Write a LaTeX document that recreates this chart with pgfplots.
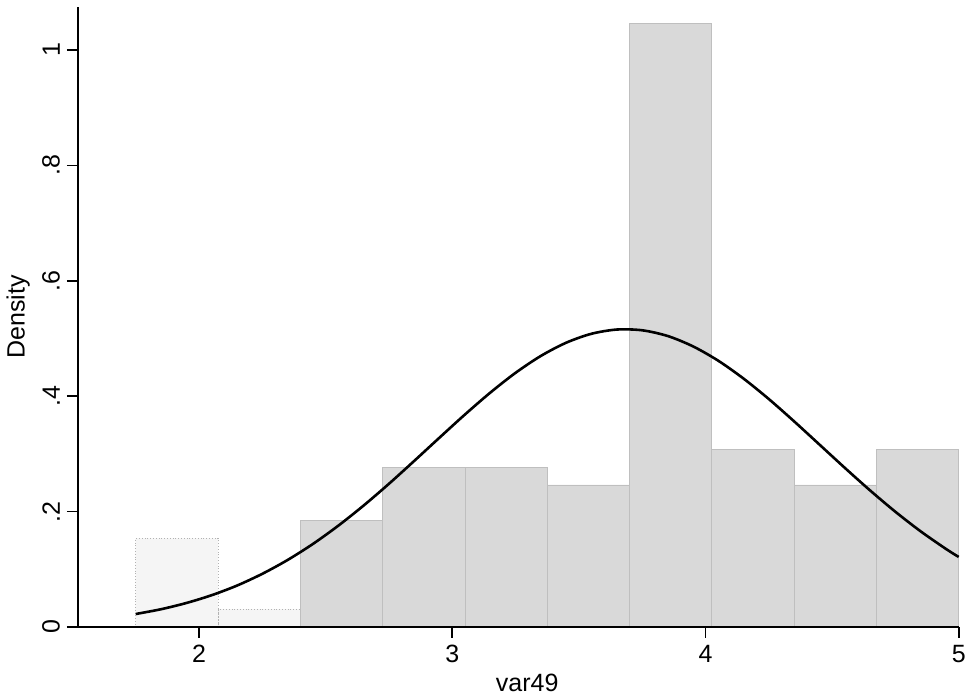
\documentclass[border=0pt]{standalone}
\usepackage{fontspec}
\setmainfont{Liberation Sans}
\usepackage{pgfplots}
\pgfplotsset{compat=1.18}

\begin{document}
\begin{tikzpicture}
\begin{axis}[
    scale only axis,
    width=440.35pt,
    height=310pt,
    xmin=1.522, xmax=5.0,
    ymin=0, ymax=1.0745,
    axis on top,
    axis x line*=bottom,
    axis y line*=left,
    axis line style={line width=0.8pt, black},
    tick align=outside,
    major tick length=5.5pt,
    tick style={line width=0.8pt, black},
    xtick={2,3,4,5},
    xticklabels={2,3,4,5},
    ytick={0,0.2,0.4,0.6,0.8,1},
    yticklabels={0,.2,.4,.6,.8,1},
    ticklabel style={font=\fontsize{12.5}{14}\selectfont},
    yticklabel style={rotate=90, anchor=south},
    xlabel={var49},
    ylabel={Density},
    label style={font=\fontsize{12.5}{14}\selectfont},
    xlabel style={at={(axis description cs:0.51,0)}, anchor=center, yshift=-28pt},
    ylabel style={at={(axis description cs:-0.068,0.5)}, anchor=center},
    clip=false,
]

% histogram bars (bin width 0.325)
\addplot[ybar interval, fill=gray!8, draw=gray!60, densely dotted] coordinates {
(1.75,0.1538) (2.075,0.0308) (2.4,0)
};
\addplot[ybar interval, fill=gray!30, draw=gray!50] coordinates {
(2.4,0.1846) (2.725,0.2769) (3.05,0.2769) (3.375,0.2462) (3.7,1.0462)
(4.025,0.3077) (4.35,0.2462) (4.675,0.3077) (5.0,0.3077)
};

% normal density overlay
\addplot[black, line width=1.3pt, smooth] coordinates {
(1.75,0.0225) (1.85,0.0308) (1.95,0.0416) (2.05,0.0551) (2.15,0.0718)
(2.25,0.0922) (2.35,0.1162) (2.45,0.1440) (2.55,0.1756) (2.65,0.2105)
(2.75,0.2482) (2.85,0.2879) (2.95,0.3283) (3.05,0.3682) (3.15,0.4061)
(3.25,0.4405) (3.35,0.4698) (3.45,0.4927) (3.55,0.5082) (3.65,0.5155)
(3.75,0.5142) (3.85,0.5044) (3.95,0.4865) (4.05,0.4616) (4.15,0.4306)
(4.25,0.3951) (4.35,0.3564) (4.45,0.3162) (4.55,0.2759) (4.65,0.2367)
(4.75,0.1997) (4.85,0.1657) (4.95,0.1352) (5.0,0.1214)
};

\end{axis}
\pgfresetboundingbox
\path[use as bounding box] (-39pt,-36.5pt) rectangle (445.5pt,313.5pt);
\end{tikzpicture}
\end{document}
